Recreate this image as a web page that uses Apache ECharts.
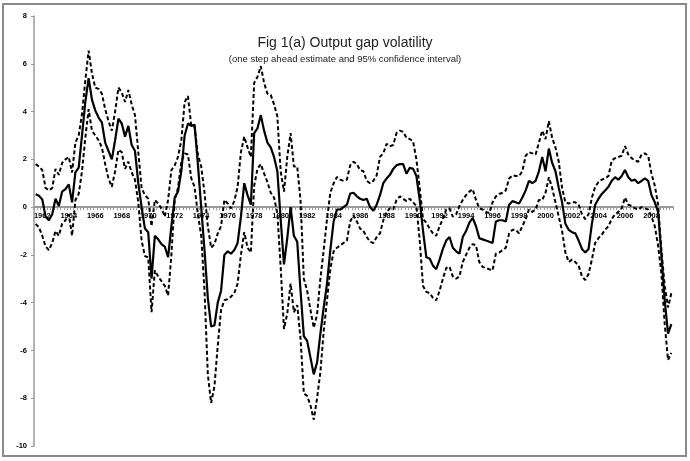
<!DOCTYPE html>
<html>
<head>
<meta charset="utf-8">
<script src="https://cdn.jsdelivr.net/npm/echarts@6/dist/echarts.min.js"></script>
<style>
  html, body { margin: 0; padding: 0; background: #fff; }
  #grafico-brecha { width: 690px; height: 461px; }
</style>
</head>
<body>
<div id="grafico-brecha"></div>
<script>
// Trimestres: primer punto 1961 T3, ultimo 2009 T3
const anioInicio = 1961;
const trimInicio = 3;

// Estimacion un paso adelante (linea continua)
const estimacion = [
  0.54, 0.48, 0.32, -0.4, -0.55, -0.3, 0.35, 0.05, 0.65, 0.75,
  0.95, 0.2, 1.45, 1.65, 3.0, 4.4, 5.4, 4.5, 4.05, 3.75,
  3.55, 2.7, 2.35, 2.0, 2.8, 3.7, 3.5, 2.95, 3.4, 2.6,
  2.35, 1.0, 0.0, -0.9, -1.05, -3.0, -1.2, -1.35, -1.55, -1.65,
  -2.1, -0.8, 0.4, 0.65, 1.5, 3.0, 3.5, 3.4, 3.45, 1.8,
  0.0, -1.8, -3.8, -5.0, -4.95, -4.0, -3.5, -2.0, -1.85, -1.95,
  -1.8, -1.5, -0.4, 1.0, 0.5, 0.1, 3.1, 3.3, 3.85, 3.2,
  2.7, 2.5, 2.1, 1.5, -0.5, -2.4, -1.3, 0.0, -1.2, -1.45,
  -3.5, -5.4, -5.6, -6.3, -7.0, -6.5, -5.3, -4.2, -3.2, -1.8,
  -0.6, -0.1, -0.1, 0.0, 0.1, 0.57, 0.6, 0.45, 0.35, 0.3,
  0.35, 0.0, -0.15, 0.1, 0.5, 1.0, 1.2, 1.35, 1.6, 1.75,
  1.8, 1.8, 1.4, 1.65, 1.6, 1.3, 0.3, -1.0, -2.1, -2.15,
  -2.45, -2.6, -2.2, -1.75, -1.4, -1.25, -1.7, -1.85, -1.95, -1.25,
  -1.0, -0.65, -0.45, -0.8, -1.3, -1.35, -1.4, -1.45, -1.5, -0.6,
  -0.55, -0.55, -0.6, 0.1, 0.25, 0.2, 0.15, 0.4, 0.7, 1.1,
  1.0, 1.1, 1.5, 2.1, 1.5, 2.45, 1.85, 1.5, 0.8, 0.2,
  -0.7, -0.95, -1.05, -1.1, -1.4, -1.75, -1.9, -1.75, -0.7, 0.1,
  0.35, 0.55, 0.7, 0.85, 1.1, 1.25, 1.15, 1.3, 1.55, 1.25,
  1.1, 1.15, 1.0, 1.1, 1.2, 1.1, 0.5, 0.2, -0.2, -2.0,
  -3.9, -5.3, -4.9
];

// Limite superior del intervalo de confianza del 95%
const limiteSuperior = [
  1.8, 1.7, 1.55, 0.8, 0.7, 0.8, 1.6, 1.35, 1.85, 2.0,
  2.1, 1.45, 2.7, 3.0, 3.9, 5.3, 6.55, 5.6, 5.0, 4.95,
  4.75, 4.1, 3.6, 3.2, 4.0, 5.0, 4.8, 4.4, 4.9, 4.3,
  3.85, 2.3, 0.8, 0.5, 0.35, -0.8, 0.3, 0.15, -0.05, -0.4,
  0.3, 1.55, 1.75, 2.1, 2.8, 4.4, 4.65, 3.4, 3.35, 2.2,
  1.7, 0.6, -0.8, -1.7, -1.55, -1.1, -0.8, 0.3, 0.15, -0.05,
  0.25, 0.85, 2.3, 2.95, 2.5, 2.1, 5.2, 5.45, 5.9, 5.2,
  4.75, 4.7, 4.3, 3.8, 1.5, 0.65, 2.1, 3.1, 1.7, 1.7,
  0.3, -3.0, -3.5, -4.3, -5.05, -4.5, -3.0, -1.8, -0.5, 0.6,
  1.0, 1.26, 1.15, 1.1, 1.15, 1.75, 1.9, 1.8, 1.55, 1.5,
  1.1, 1.0, 1.1, 1.33, 2.1, 2.25, 2.65, 2.55, 2.6, 3.1,
  3.2, 3.15, 2.9, 2.85, 2.75, 2.0, 0.8, -0.5, -0.65, -0.9,
  -1.1, -1.2, -0.8, -0.5, -0.1, -0.05, -0.4, -0.3, 0.05, 0.3,
  0.5, 0.65, 0.75, 0.3, -0.05, -0.1, -0.2, -0.25, 0.2, 0.45,
  0.55, 0.6, 0.7, 1.2, 1.33, 1.3, 1.3, 1.5, 2.15, 2.3,
  2.25, 2.2, 2.7, 3.2, 2.85, 3.6, 2.9, 2.5, 1.9, 0.8,
  0.2, 0.15, 0.2, 0.2, 0.1, -0.3, -0.5, -0.3, 0.4, 0.85,
  1.05, 1.15, 1.2, 1.3, 1.95, 2.05, 2.1, 2.15, 2.55, 2.2,
  2.05, 1.95, 1.9, 2.2, 2.25, 2.15, 1.4, 0.9, 0.1, -1.8,
  -3.3, -4.2, -3.6
];

// Limite inferior del intervalo de confianza del 95%
const limiteInferior = [
  -0.7, -0.85, -1.2, -1.65, -1.8, -1.5, -1.0, -1.2, -0.7, -0.55,
  -0.3, -1.2, 0.3, 0.55, 1.5, 2.9, 4.1, 3.2, 3.0, 2.8,
  2.5, 1.8, 1.2, 0.85, 1.5, 2.4, 2.3, 1.6, 1.9, 1.45,
  1.15, 0.2, -1.4, -2.05, -2.1, -4.4, -2.65, -2.9, -3.1, -3.3,
  -3.7, -2.0, 0.3, 0.8, 1.9, 2.25, 2.2, 1.2, 0.85, -0.3,
  -1.2, -3.5, -7.0, -8.2, -7.5, -5.8, -4.3, -3.9, -3.85, -3.75,
  -3.6, -3.2, -2.0, -1.05, -1.7, -1.9, 0.9, 1.6, 1.8, 1.4,
  1.05, 0.6, 0.4, -0.25, -2.5, -5.1, -4.45, -3.2, -4.4, -4.1,
  -5.5, -7.8, -7.9, -8.3, -8.9, -8.0, -6.9, -5.2, -3.9, -2.6,
  -1.85, -1.7, -1.6, -1.5, -1.4, -0.6, -0.35, -0.6, -0.9, -1.0,
  -1.25, -1.45, -1.5, -1.25, -1.1, -0.55, -0.2, -0.05, -0.1, 0.3,
  0.45, 0.35, 0.25, 0.35, 0.2, 0.05, -1.4, -3.3, -3.55, -3.6,
  -3.8, -3.9, -3.5, -3.0, -2.55, -2.5, -2.9, -3.0, -2.9, -2.3,
  -2.0, -1.7, -1.55, -1.6, -2.3, -2.5, -2.55, -2.6, -2.65, -1.95,
  -1.9, -1.8, -1.7, -1.1, -0.95, -0.95, -1.1, -0.8, -0.5, -0.1,
  -0.2, -0.1, 0.3, 0.3, 0.6, 1.25, 0.8, 0.2, -0.4, -1.0,
  -1.9, -2.3, -2.2, -2.3, -2.45, -2.9, -3.05, -2.8, -2.2, -1.5,
  -1.3, -1.15, -0.95, -0.8, -0.5, -0.3, -0.2, -0.05, 0.4, 0.1,
  0.05, -0.05, -0.1, 0.0, -0.05, -0.1, -0.4, -0.8, -1.6, -2.8,
  -4.9, -6.4, -6.1
];

// Marcas del eje Y
const marcasY = [-10, -8, -6, -4, -2, 0, 2, 4, 6, 8];

// Etiquetas de trimestre para el eje de categorias
const trimestres = [];
for (let i = 0; i < estimacion.length; i++) {
  const t = trimInicio - 1 + i;
  const anio = anioInicio + Math.floor(t / 4);
  trimestres.push(anio + 'Q' + ((t % 4) + 1));
}

const dom = document.getElementById('grafico-brecha');
const grafico = echarts.init(dom, null, { renderer: 'canvas' });

// Alto de la zona de trazado y posicion del cero, para subir el eje X
const altoGrid = 461 - 16 - 15;
const yMin = marcasY[0];
const yMax = marcasY[marcasY.length - 1];
const desplazamientoCero = altoGrid * (0 - yMin) / (yMax - yMin);

const estiloDiscontinuo = {
  color: '#000',
  width: 2,
  type: [4, 2.5]
};

const option = {
  animation: false,
  backgroundColor: '#fff',
  title: [
    {
      text: 'Fig 1(a) Output gap volatility',
      left: 340,
      top: 31,
      textAlign: 'center',
      textStyle: {
        fontFamily: "'Liberation Sans', Arial, sans-serif",
        fontSize: 14,
        fontWeight: 'normal',
        color: '#222'
      }
    },
    {
      text: '(one step ahead estimate and 95% confidence interval)',
      left: 340,
      top: 49,
      textAlign: 'center',
      textStyle: {
        fontFamily: "'Liberation Sans', Arial, sans-serif",
        fontSize: 9.5,
        fontWeight: 'normal',
        color: '#222'
      }
    }
  ],
  graphic: [{
    type: 'rect',
    shape: { x: 3, y: 4, width: 683, height: 452 },
    style: { fill: 'none', stroke: '#8a8a8a', lineWidth: 2 },
    silent: true
  }],
  grid: {
    left: 34,
    right: 17,
    top: 16,
    bottom: 15,
    containLabel: false
  },
  xAxis: {
    type: 'category',
    data: trimestres,
    boundaryGap: true,
    position: 'bottom',
    offset: -desplazamientoCero,
    axisLine: {
      onZero: false,
      lineStyle: { color: '#9a9a9a', width: 2 }
    },
    axisTick: {
      show: true,
      interval: 0,
      length: 3,
      lineStyle: { color: '#9a9a9a', width: 1 }
    },
    axisLabel: {
      interval: (i, v) => v.endsWith('Q1') && parseInt(v, 10) % 2 === 0,
      formatter: v => v.slice(0, 4),
      fontFamily: "'Liberation Sans', Arial, sans-serif",
      fontSize: 7.5,
      fontWeight: 'bold',
      color: '#000',
      margin: 5
    },
    splitLine: { show: false }
  },
  yAxis: {
    type: 'value',
    min: yMin,
    max: yMax,
    interval: 2,
    axisLine: {
      show: true,
      lineStyle: { color: '#9a9a9a', width: 1.5 }
    },
    axisTick: {
      show: true,
      length: 3,
      lineStyle: { color: '#9a9a9a' }
    },
    axisLabel: {
      fontFamily: "'Liberation Sans', Arial, sans-serif",
      fontSize: 7.5,
      fontWeight: 'bold',
      color: '#000',
      margin: 7
    },
    splitLine: { show: false }
  },
  series: [
    {
      name: 'Upper 95%',
      type: 'line',
      data: limiteSuperior,
      symbol: 'none',
      lineStyle: estiloDiscontinuo,
      z: 2
    },
    {
      name: 'Lower 95%',
      type: 'line',
      data: limiteInferior,
      symbol: 'none',
      lineStyle: estiloDiscontinuo,
      z: 2
    },
    {
      name: 'Estimate',
      type: 'line',
      data: estimacion,
      symbol: 'none',
      lineStyle: { color: '#000', width: 2.2 },
      z: 3
    }
  ]
};

grafico.setOption(option);
</script>
</body>
</html>
